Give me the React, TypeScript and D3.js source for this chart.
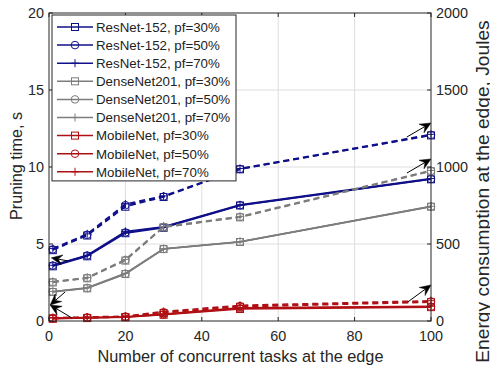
import React from "react";
import * as d3 from "d3";

const tasks = [1, 10, 20, 30, 50, 100];

const resnetTime30 = [3.55, 4.2, 5.7, 6.05, 7.5, 9.2];
const resnetTime50 = [3.6, 4.25, 5.75, 6.1, 7.52, 9.22];
const resnetTime70 = [3.62, 4.27, 5.82, 6.12, 7.55, 9.25];
const resnetEnergy30 = [460, 555, 742, 805, 985, 1205];
const resnetEnergy50 = [465, 560, 752, 808, 987, 1208];
const resnetEnergy70 = [470, 566, 760, 812, 990, 1212];

const denseTime30 = [1.88, 2.12, 3.05, 4.67, 5.13, 7.42];
const denseTime50 = [1.9, 2.14, 3.07, 4.68, 5.14, 7.43];
const denseTime70 = [1.92, 2.16, 3.1, 4.7, 5.15, 7.45];
const denseEnergy30 = [250, 277, 392, 608, 673, 972];
const denseEnergy50 = [253, 280, 396, 611, 676, 975];
const denseEnergy70 = [256, 283, 400, 614, 679, 978];

const mobileTime30 = [0.15, 0.19, 0.24, 0.4, 0.78, 0.9];
const mobileTime50 = [0.17, 0.21, 0.26, 0.43, 0.82, 0.93];
const mobileTime70 = [0.19, 0.23, 0.28, 0.46, 0.86, 0.96];
const mobileEnergy30 = [16, 20, 26, 52, 92, 122];
const mobileEnergy50 = [19, 23, 29, 57, 97, 127];
const mobileEnergy70 = [22, 26, 32, 62, 102, 132];

const xTicks = [0, 20, 40, 60, 80, 100];
const yLeftTicks = [0, 5, 10, 15, 20];
const yRightTicks = [0, 500, 1000, 1500, 2000];

const legendLabels = [
  "ResNet-152, pf=30%",
  "ResNet-152, pf=50%",
  "ResNet-152, pf=70%",
  "DenseNet201, pf=30%",
  "DenseNet201, pf=50%",
  "DenseNet201, pf=70%",
  "MobileNet, pf=30%",
  "MobileNet, pf=50%",
  "MobileNet, pf=70%",
];

// annotation arrows: [x1, y1, x2, y2]
const leftArrows = [
  [5, 3.9, 0.6, 4.1],
  [4.2, 1.88, 0.3, 1.04],
  [6, 0.2, 0.3, 1.04],
];
const rightArrows = [
  [93.7, 1195, 100, 1286],
  [93.7, 961, 100, 1052],
  [93.9, 123, 100, 234],
];

const BLUE = "#10108a";
const GRAY = "#7d7d7d";
const RED = "#b01015";

type Series = { label: string; color: string; marker: string; time: number[]; energy: number[] };
const series: Series[] = [
  { label: legendLabels[0], color: BLUE, marker: "square", time: resnetTime30, energy: resnetEnergy30 },
  { label: legendLabels[1], color: BLUE, marker: "circle", time: resnetTime50, energy: resnetEnergy50 },
  { label: legendLabels[2], color: BLUE, marker: "plus", time: resnetTime70, energy: resnetEnergy70 },
  { label: legendLabels[3], color: GRAY, marker: "square", time: denseTime30, energy: denseEnergy30 },
  { label: legendLabels[4], color: GRAY, marker: "circle", time: denseTime50, energy: denseEnergy50 },
  { label: legendLabels[5], color: GRAY, marker: "plus", time: denseTime70, energy: denseEnergy70 },
  { label: legendLabels[6], color: RED, marker: "square", time: mobileTime30, energy: mobileEnergy30 },
  { label: legendLabels[7], color: RED, marker: "circle", time: mobileTime50, energy: mobileEnergy50 },
  { label: legendLabels[8], color: RED, marker: "plus", time: mobileTime70, energy: mobileEnergy70 },
];

const L = 49, R = 431, T = 13, B = 321;
const FONT = "'Liberation Sans', Arial, sans-serif";
const AX = "#262626";

function Marker({ type, x, y, color }: { type: string; x: number; y: number; color: string }) {
  const s = 3.5;
  if (type === "square")
    return <rect x={x - s} y={y - s} width={2 * s} height={2 * s} fill="none" stroke={color} strokeWidth={1} />;
  if (type === "circle") return <circle cx={x} cy={y} r={s + 0.3} fill="none" stroke={color} strokeWidth={1} />;
  return (
    <path d={`M${x - s - 0.5},${y}H${x + s + 0.5}M${x},${y - s - 0.5}V${y + s + 0.5}`} stroke={color} strokeWidth={1} />
  );
}

function Arrow({ x1, y1, x2, y2 }: { x1: number; y1: number; x2: number; y2: number }) {
  const ang = Math.atan2(y2 - y1, x2 - x1);
  const len = 11, half = 5, notch = 7;
  const ux = Math.cos(ang), uy = Math.sin(ang);
  const px = -uy, py = ux;
  const bx = x2 - ux * len, by = y2 - uy * len;
  const nx = x2 - ux * notch, ny = y2 - uy * notch;
  const d = `M${x2},${y2}L${bx + px * half},${by + py * half}L${nx},${ny}L${bx - px * half},${by - py * half}Z`;
  return (
    <g>
      <line x1={x1} y1={y1} x2={nx} y2={ny} stroke="#000" strokeWidth={1} />
      <path d={d} fill="#000" stroke="#000" strokeWidth={0.5} />
    </g>
  );
}

export default function App() {
  const x = d3.scaleLinear().domain([0, 100]).range([L, R]);
  const yL = d3.scaleLinear().domain([0, 20]).range([B, T]);
  const yR = d3.scaleLinear().domain([0, 2000]).range([B, T]);

  const lineT = d3.line<number>().x((_, i) => x(tasks[i])).y((d) => yL(d));
  const lineE = d3.line<number>().x((_, i) => x(tasks[i])).y((d) => yR(d));

  const legX = 52, legY = 15, legW = 184, rowH = 18.1;
  const legH = rowH * legendLabels.length + 3;

  return (
    <svg width={490} height={371} style={{ position: "absolute", left: 0, top: 0 }} fontFamily={FONT}>
      <rect x={0} y={0} width={490} height={371} fill="#fff" />
      <rect x={L} y={T} width={R - L} height={B - T} fill="#fff" />
      {/* grid */}
      {xTicks.slice(1, -1).map((t) => (
        <line key={"gx" + t} x1={x(t)} x2={x(t)} y1={T} y2={B} stroke="#dedede" strokeWidth={1} />
      ))}
      {yLeftTicks.slice(1, -1).map((t) => (
        <line key={"gy" + t} x1={L} x2={R} y1={yL(t)} y2={yL(t)} stroke="#dedede" strokeWidth={1} />
      ))}
      {/* data */}
      <g clipPath="url(#clip)">
        {series.map((s, k) => (
          <g key={"s" + k}>
            <path d={lineE(s.energy) || ""} fill="none" stroke={s.color} strokeWidth={1.5} strokeDasharray="6,4" />
            <path d={lineT(s.time) || ""} fill="none" stroke={s.color} strokeWidth={1.5} />
            {s.time.map((v, i) => (
              <Marker key={"t" + i} type={s.marker} x={x(tasks[i])} y={yL(v)} color={s.color} />
            ))}
            {s.energy.map((v, i) => (
              <Marker key={"e" + i} type={s.marker} x={x(tasks[i])} y={yR(v)} color={s.color} />
            ))}
          </g>
        ))}
      </g>
      {/* arrows */}
      {leftArrows.map((a, i) => (
        <Arrow key={"la" + i} x1={x(a[0])} y1={yL(a[1])} x2={x(a[2])} y2={yL(a[3])} />
      ))}
      {rightArrows.map((a, i) => (
        <Arrow key={"ra" + i} x1={x(a[0])} y1={yR(a[1])} x2={x(a[2])} y2={yR(a[3])} />
      ))}
      {/* axes box */}
      <rect x={L} y={T} width={R - L} height={B - T} fill="none" stroke={AX} strokeWidth={1} />
      {/* x ticks */}
      {xTicks.map((t) => (
        <g key={"xt" + t}>
          <line x1={x(t)} x2={x(t)} y1={B} y2={B - 4} stroke={AX} />
          <line x1={x(t)} x2={x(t)} y1={T} y2={T + 4} stroke={AX} />
          <text x={x(t)} y={B + 20} textAnchor="middle" fontSize={14.4} fill={AX}>
            {t}
          </text>
        </g>
      ))}
      {yLeftTicks.map((t) => (
        <g key={"yl" + t}>
          <line x1={L} x2={L + 4} y1={yL(t)} y2={yL(t)} stroke={AX} />
          <text x={L - 5} y={yL(t) + 5} textAnchor="end" fontSize={14.4} fill={AX}>
            {t}
          </text>
        </g>
      ))}
      {yRightTicks.map((t) => (
        <g key={"yr" + t}>
          <line x1={R - 4} x2={R} y1={yR(t)} y2={yR(t)} stroke={AX} />
          <text x={R + 5} y={yR(t) + 5} textAnchor="start" fontSize={14.4} fill={AX}>
            {t}
          </text>
        </g>
      ))}
      {/* axis labels */}
      <text x={240.5} y={362} textAnchor="middle" fontSize={16.3} fill={AX}>
        Number of concurrent tasks at the edge
      </text>
      <text transform={`translate(22,166) rotate(-90)`} textAnchor="middle" fontSize={16.2} fill={AX}>
        Pruning time, s
      </text>
      <text transform={`translate(488.5,191.5) rotate(-90)`} textAnchor="middle" fontSize={19.2} fill={AX}>
        Energy consumption at the edge, Joules
      </text>
      {/* legend */}
      <rect x={legX} y={legY} width={legW} height={legH} fill="#fff" stroke={AX} strokeWidth={1} />
      {series.map((s, i) => {
        const cy = legY + 12 + i * rowH;
        return (
          <g key={"lg" + i}>
            <line x1={legX + 5} x2={legX + 41} y1={cy} y2={cy} stroke={s.color} strokeWidth={1.5} />
            <Marker type={s.marker} x={legX + 23} y={cy} color={s.color} />
            <text x={legX + 44} y={cy + 4.8} fontSize={13.3} fill="#222">
              {s.label}
            </text>
          </g>
        );
      })}
      <defs>
        <clipPath id="clip">
          <rect x={L - 5} y={T} width={R - L + 10} height={B - T + 5} />
        </clipPath>
      </defs>
    </svg>
  );
}
